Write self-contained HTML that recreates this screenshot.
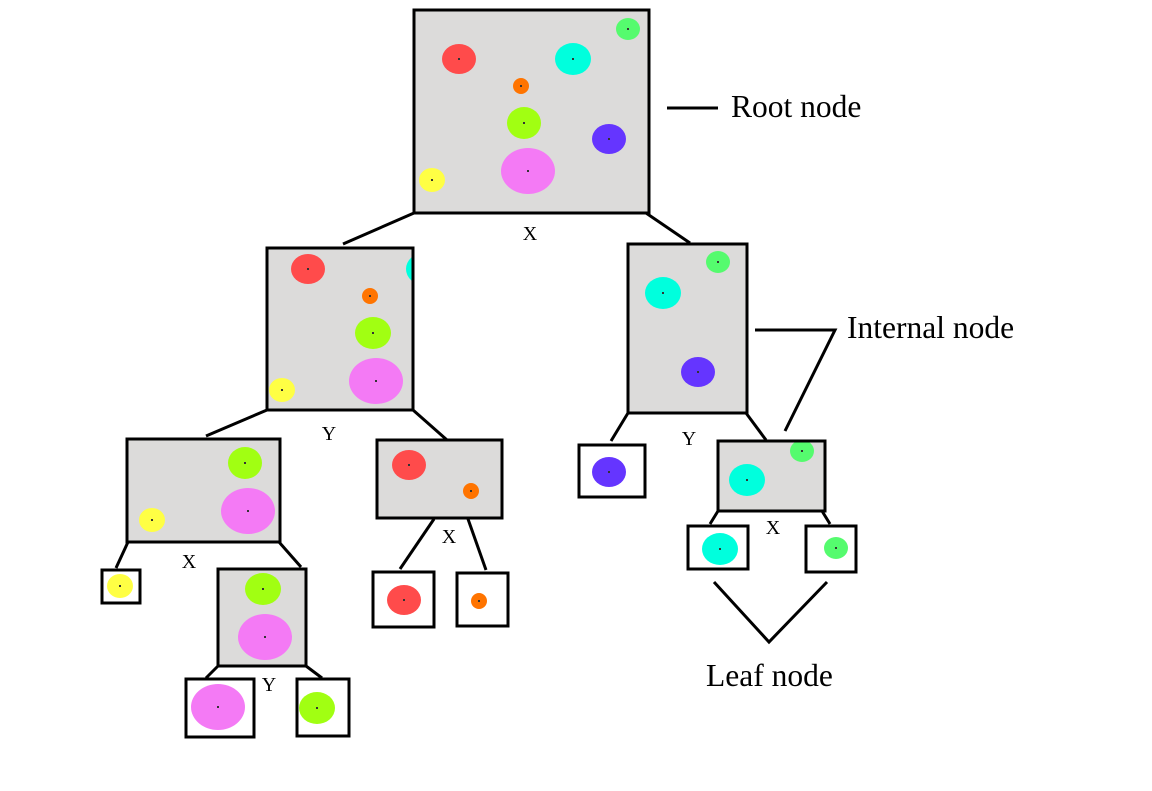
<!DOCTYPE html>
<html><head><meta charset="utf-8"><style>
html,body{margin:0;padding:0;background:#fff;}
svg{display:block;}
text{font-family:"Liberation Serif",serif;fill:#000;}
</style></head><body>
<svg width="1152" height="791" viewBox="0 0 1152 791" id="tree"></svg>
<script>
const colors={red:"#ff4b4b",cyan:"#00ffdd",green:"#55fb6e",orange:"#ff7400",lime:"#a1ff12",purple:"#6535ff",pink:"#f47af5",yellow:"#ffff44"};
const nodeNames=["root","left","right","left-left","left-right","right-left","right-right","leaf-yellow","left-left-right","leaf-red","leaf-orange","leaf-cyan","leaf-green","leaf-pink","leaf-lime"];
const nodeBoxes=[[414,10,235,203],[267,248,146,162],[628,244,119,169],[127,439,153,103],[377,440,125,78],[579,445,66,52],[718,441,107,70],[102,570,38,33],[218,569,88,97],[373,572,61,55],[457,573,51,53],[688,526,60,43],[806,526,50,46],[186,679,68,58],[297,679,52,57]];
const nodeFilled=[1,1,1,1,1,0,1,0,1,0,0,0,0,0,0];
const points=[
 [0,"red",459,59,17,15],[0,"cyan",573,59,18,16],[0,"green",628,29,12,11],[0,"orange",521,86,8,8],[0,"lime",524,123,17,16],[0,"purple",609,139,17,15],[0,"pink",528,171,27,23],[0,"yellow",432,180,13,12],
 [1,"red",308,269,17,15],[1,"cyan",424,269,18,16],[1,"orange",370,296,8,8],[1,"lime",373,333,18,16],[1,"pink",376,381,27,23],[1,"yellow",282,390,13,12],
 [2,"green",718,262,12,11],[2,"cyan",663,293,18,16],[2,"purple",698,372,17,15],
 [3,"lime",245,463,17,16],[3,"pink",248,511,27,23],[3,"yellow",152,520,13,12],
 [4,"red",409,465,17,15],[4,"orange",471,491,8,8],
 [5,"purple",609,472,17,15],
 [6,"green",802,451,12,11],[6,"cyan",747,480,18,16],
 [7,"yellow",120,586,13,12],
 [8,"lime",263,589,18,16],[8,"pink",265,637,27,23],
 [9,"red",404,600,17,15],[10,"orange",479,601,8,8],
 [11,"cyan",720,549,18,16],[12,"green",836,548,12,11],
 [13,"pink",218,707,27,23],[14,"lime",317,708,18,16]
];
const edges=[[414,213,343,244],[646,213,690,243],[267,410,206,436],[413,410,447,440],[628,413,611,441],[746,413,766,440],[128,542,116,568],[279,542,301,567],[434,519,400,569],[468,519,486,570],[718,511,710,524],[822,511,830,524],[218,666,206,678],[306,666,322,678]];
const splitLabels=[["X",530,240],["Y",329,440],["Y",689,445],["X",189,568],["X",449,543],["X",773,534],["Y",269,691]];
const NS="http://www.w3.org/2000/svg";
const svg=document.getElementById('tree');
function mk(t,a){const e=document.createElementNS(NS,t);for(const k in a)e.setAttribute(k,a[k]);svg.appendChild(e);return e;}
const clip=mk('clipPath',{id:'clipLeft'});
const cr=document.createElementNS(NS,'rect');cr.setAttribute('x',267);cr.setAttribute('y',248);cr.setAttribute('width',146);cr.setAttribute('height',162);clip.appendChild(cr);
edges.forEach(ed=>{const l=mk('line',{x1:ed[0],y1:ed[1],x2:ed[2],y2:ed[3],stroke:'#000','stroke-width':3});

});
nodeBoxes.forEach((b,i)=>{const r=mk('rect',{x:b[0],y:b[1],width:b[2],height:b[3],fill:nodeFilled[i]?'#dcdbda':'#fff',stroke:'none'});

});
points.forEach(p=>{const c=mk('ellipse',{cx:p[2],cy:p[3],rx:p[4],ry:p[5],fill:colors[p[1]]});
if(p[0]===1)c.setAttribute('clip-path','url(#clipLeft)');


if(p[2]<420||p[0]!==1){const d=mk('rect',{x:p[2]-1,y:p[3]-1,width:2,height:2,fill:'#333'});

}});
nodeBoxes.forEach((b,i)=>{const r=mk('rect',{x:b[0],y:b[1],width:b[2],height:b[3],fill:'none',stroke:'#000','stroke-width':3});

});
splitLabels.forEach(s=>{const t=mk('text',{x:s[1],y:s[2],'font-size':20,'text-anchor':'middle'});t.textContent=s[0];

});
</script>
<svg width="1152" height="791" style="position:absolute;left:0;top:0">
<line x1="667" y1="108" x2="718" y2="108" stroke="#000" stroke-width="3"/>
<text x="731" y="117" font-size="31.5">Root node</text>
<polyline points="755,330 835,330 785,431" fill="none" stroke="#000" stroke-width="3"/>
<text x="847" y="338" font-size="31.5">Internal node</text>
<polyline points="714,582 769,642 827,582" fill="none" stroke="#000" stroke-width="3"/>
<text x="706" y="686" font-size="31.5">Leaf node</text>
</svg>
</body></html>
